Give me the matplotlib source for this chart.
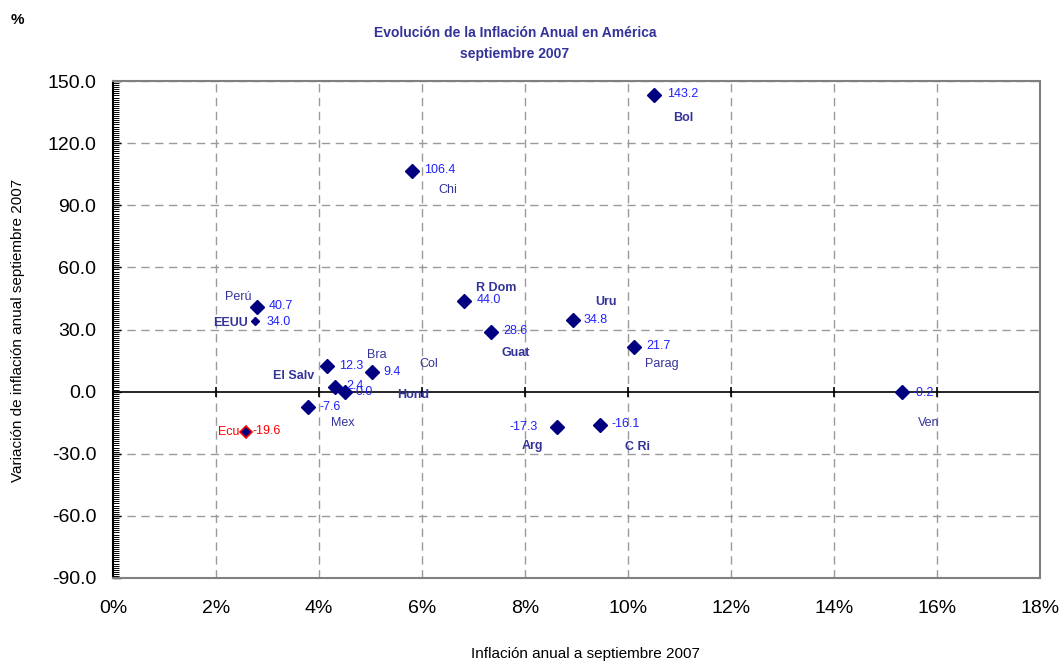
import matplotlib
matplotlib.use("Agg")
import matplotlib.pyplot as plt
from matplotlib.ticker import MultipleLocator, FuncFormatter

# data
countries = ["Bol", "Chi", "R Dom", "Guat", "Uru", "Parag", "Ven", "Arg", "C Ri",
             "Perú", "EEUU", "El Salv", "Bra", "Col", "Hond", "Mex", "Ecu"]
inflacion = [10.50, 5.81, 6.82, 7.34, 8.93, 10.12, 15.32, 8.62, 9.46,
             2.80, 2.76, 4.16, 5.03, 4.31, 4.50, 3.79, 2.58]
variacion = [143.2, 106.4, 44.0, 28.6, 34.8, 21.7, -0.2, -17.3, -16.1,
             40.7, 34.0, 12.3, 9.4, 2.4, 0.0, -7.6, -19.6]
bold_names = ["Bol", "R Dom", "Guat", "Uru", "Arg", "C Ri", "EEUU", "El Salv", "Hond"]

# label offsets in pixels: (value dx, dy, ha), (name dx, dy, ha)
val_off = {"Bol": (13, 1, "left"), "Chi": (12, 1, "left"), "R Dom": (12, 1, "left"),
           "Guat": (12, 1, "left"), "Uru": (11, 0, "left"), "Parag": (12, 1, "left"),
           "Ven": (11, -1, "left"), "Arg": (-19, 0, "right"), "C Ri": (11, 1, "left"),
           "Perú": (11, 1, "left"), "EEUU": (11, -1, "left"), "El Salv": (12, 0, "left"),
           "Bra": (11, 0, "left"), "Col": (11, 1, "left"), "Hond": (11, 0, "left"),
           "Mex": (11, 0, "left"), "Ecu": (7, 1, "left")}
name_off = {"Bol": (29, -23, "center"), "Chi": (36, -19, "center"), "R Dom": (32, 13, "center"),
            "Guat": (25, -21, "center"), "Uru": (33, 18, "center"), "Parag": (28, -17, "center"),
            "Ven": (27, -31, "center"), "Arg": (-24, -19, "center"), "C Ri": (37, -22, "center"),
            "Perú": (-19, 10, "center"), "EEUU": (-25, -2, "center"), "El Salv": (-34, -10, "center"),
            "Bra": (5, 17, "center"), "Col": (94, 23, "center"), "Hond": (68, -3, "center"),
            "Mex": (35, -16, "center"), "Ecu": (-6, 0, "right")}

arial = ["Liberation Sans", "DejaVu Sans"]
plt.rcParams["font.family"] = arial
navy = "#000080"
val_color = "#2020ff"
name_color = "#333399"

fig = plt.figure(figsize=(10.63, 6.63), dpi=100)
ax = fig.add_axes([113 / 1063, 85 / 663, 927 / 1063, 497 / 663])

for c, x, y in zip(countries, inflacion, variacion):
    if c == "Ecu":
        ax.plot(x, y, "D", ms=6.5, mfc=navy, mec="red", mew=1.2, zorder=5)
    elif c == "EEUU":
        ax.plot(x, y, "D", ms=4, color=navy, zorder=5)
    else:
        ax.plot(x, y, "D", ms=7, color=navy, zorder=5)
    vc = "red" if c == "Ecu" else val_color
    nc = "red" if c == "Ecu" else name_color
    dx, dy, ha = val_off[c]
    ax.annotate("%.1f" % y, (x, y), xytext=(dx, dy), textcoords="offset pixels",
                ha=ha, va="center", fontsize=9, color=vc, zorder=6)
    dx, dy, ha = name_off[c]
    ax.annotate(c, (x, y), xytext=(dx, dy), textcoords="offset pixels",
                ha=ha, va="center", fontsize=9, color=nc,
                fontweight="bold" if c in bold_names else "normal", zorder=6)

ax.set_xlim(0, 18)
ax.set_ylim(-90, 150)
ax.xaxis.set_major_locator(MultipleLocator(2))
ax.yaxis.set_major_locator(MultipleLocator(30))
ax.yaxis.set_minor_locator(MultipleLocator(1))
ax.xaxis.set_major_formatter(FuncFormatter(lambda v, p: "%d%%" % round(v)))
ax.yaxis.set_major_formatter(FuncFormatter(lambda v, p: "%.1f" % v))

for t in ax.get_yticks():
    if -90 < t <= 150 and t != 0:
        ax.axhline(t, color="#9a9a9a", lw=1, ls=(0, (6, 4)), zorder=1)
for t in ax.get_xticks():
    if 0 < t < 18:
        ax.axvline(t, color="#9a9a9a", lw=1, ls=(0, (6, 4)), zorder=1)
ax.axhline(0, color="black", lw=1.2, zorder=2)
ax.plot(ax.get_xticks()[1:-1], [0] * (len(ax.get_xticks()) - 2), "|", color="black",
        ms=7, mew=1.2, zorder=2)

for s in ["top", "right", "bottom"]:
    ax.spines[s].set_color("#808080")
    ax.spines[s].set_linewidth(1.5)
ax.spines["left"].set_color("black")
ax.spines["left"].set_linewidth(1.5)

ax.tick_params(axis="y", which="major", direction="in", length=6, width=1, pad=12,
               labelsize=14)
ax.tick_params(axis="y", which="minor", direction="in", length=4, width=0.7)
ax.tick_params(axis="x", which="major", length=0, pad=16, labelsize=14)

fig.text(585 / 1063, 1 - 654 / 663, "Inflación anual a septiembre 2007",
         ha="center", va="center", fontsize=11)
fig.text(18 / 1063, 1 - 330 / 663, "Variación de inflación anual septiembre 2007",
         ha="center", va="center", rotation=90, fontsize=11)

fig.text(515 / 1063, 1 - 33 / 663, "Evolución de la Inflación Anual en América",
         ha="center", va="center", fontsize=10, fontweight="bold", color=name_color)
fig.text(515 / 1063, 1 - 54 / 663, "septiembre 2007", ha="center", va="center",
         fontsize=10, fontweight="bold", color=name_color)
fig.text(17 / 1063, 1 - 20 / 663, "%", ha="center", va="center", fontsize=11,
         fontweight="bold")

fig.savefig("out.png", dpi=100)
